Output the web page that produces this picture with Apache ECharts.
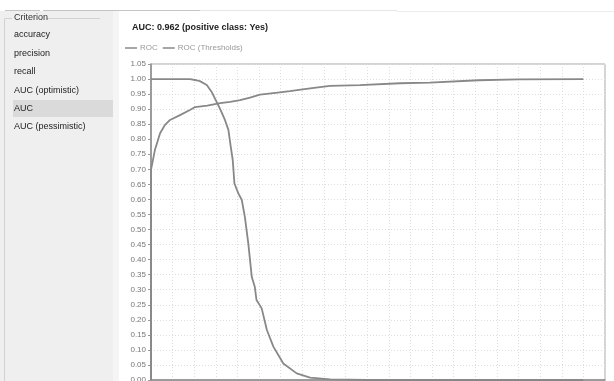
<!DOCTYPE html>
<html>
<head>
<meta charset="utf-8">
<script src="https://cdn.jsdelivr.net/npm/echarts@6/dist/echarts.min.js"></script>
<style>
html,body{margin:0;padding:0;background:#fff;}
#chart{width:614px;height:381px;}
</style>
</head>
<body>
<div id="chart"></div>
<script>
const titleText = 'AUC: 0.962 (positive class: Yes)';
const seriesNames = ['ROC', 'ROC (Thresholds)'];
const criteria = ['accuracy', 'precision', 'recall', 'AUC (optimistic)', 'AUC', 'AUC (pessimistic)'];
const selectedCriterion = 'AUC';

const rocX = [0, 0, 0.009, 0.021, 0.032, 0.044, 0.067, 0.09, 0.102, 0.13, 0.16, 0.183, 0.206, 0.229, 0.252, 0.298, 0.321, 0.368, 0.414, 0.483, 0.576, 0.645, 0.757, 0.85, 1.0];
const rocY = [0, 0.698, 0.764, 0.82, 0.847, 0.864, 0.88, 0.897, 0.907, 0.912, 0.92, 0.924, 0.93, 0.938, 0.948, 0.956, 0.96, 0.969, 0.977, 0.98, 0.986, 0.988, 0.996, 0.999, 1.0];

const thrX = [0, 0.09, 0.105, 0.113, 0.129, 0.14, 0.148, 0.16, 0.171, 0.179, 0.184, 0.189, 0.193, 0.202, 0.21, 0.217, 0.225, 0.229, 0.233, 0.24, 0.244, 0.256, 0.268, 0.283, 0.306, 0.337, 0.368, 0.414, 0.5, 1.0];
const thrY = [1, 1, 0.996, 0.993, 0.98, 0.958, 0.935, 0.9, 0.864, 0.831, 0.78, 0.731, 0.653, 0.62, 0.598, 0.543, 0.454, 0.399, 0.343, 0.31, 0.266, 0.238, 0.166, 0.111, 0.055, 0.022, 0.008, 0.002, 0, 0];

const axisMin = 0, axisMax = 1.05, axisStep = 0.05;

const zip = (xs, ys) => xs.map((x, i) => [x, ys[i]]);
const font = 'Liberation Sans, Arial, sans-serif';

const chart = echarts.init(document.getElementById('chart'), null, {renderer: 'canvas'});

const graphics = [
  {type: 'rect', shape: {x: 0, y: 11, width: 113, height: 370}, style: {fill: '#efefef'}, silent: true},
  {type: 'rect', shape: {x: 113, y: 11, width: 6, height: 370}, style: {fill: '#f5f5f5'}, silent: true},
  {type: 'line', shape: {x1: 5, y1: 10.5, x2: 40, y2: 10.5}, style: {stroke: '#c4c4c4', lineWidth: 1}},
  {type: 'line', shape: {x1: 43, y1: 10.5, x2: 200, y2: 10.5}, style: {stroke: '#c4c4c4', lineWidth: 1}},
  {type: 'line', shape: {x1: 200, y1: 10.5, x2: 397, y2: 10.5}, style: {stroke: '#e6e6e6', lineWidth: 1}},
  {type: 'line', shape: {x1: 397, y1: 11.5, x2: 614, y2: 11.5}, style: {stroke: '#ececec', lineWidth: 1}},
  {type: 'polyline', shape: {points: [[12, 18.5], [4.5, 18.5], [4.5, 381]]}, style: {stroke: '#d2d2d2', fill: null, lineWidth: 1}},
  {type: 'line', shape: {x1: 46, y1: 18.5, x2: 100, y2: 18.5}, style: {stroke: '#d2d2d2', lineWidth: 1}},
  {type: 'text', x: 14, y: 18, style: {text: 'Criterion', font: '9px ' + font, fill: '#333', verticalAlign: 'middle'}}
];
criteria.forEach((c, i) => {
  const cy = 35 + i * 18.4;
  if (c === selectedCriterion) {
    graphics.push({type: 'rect', shape: {x: 13, y: cy - 8.5, width: 100, height: 17}, style: {fill: '#dadada'}, silent: true});
  }
  graphics.push({type: 'text', x: 14, y: cy, style: {text: c, font: '9px ' + font, fill: '#222', verticalAlign: 'middle'}});
});

chart.setOption({
  animation: false,
  backgroundColor: '#fff',
  title: {
    text: titleText, left: 127, top: 18,
    textStyle: {fontSize: 9, fontWeight: 'bold', color: '#222', fontFamily: font}
  },
  legend: {
    left: 120, top: 39, itemWidth: 12, itemHeight: 1.5, itemGap: 5,
    icon: 'rect',
    data: seriesNames,
    textStyle: {fontSize: 8, color: '#999', fontFamily: font, padding: [0, 0, 0, -2]}
  },
  graphic: graphics,
  grid: {left: 151, top: 64, right: 9, bottom: 1, outerBoundsMode: 'none', containLabel: false,
         show: true, borderColor: '#a8a8a8', borderWidth: 1, backgroundColor: 'transparent'},
  xAxis: {
    type: 'value', min: axisMin, max: axisMax, interval: axisStep,
    axisLine: {show: true, lineStyle: {color: '#888', width: 1.5}},
    axisTick: {show: false}, axisLabel: {show: false},
    splitLine: {show: true, lineStyle: {color: '#dedede', type: [1, 2], width: 1}}
  },
  yAxis: {
    type: 'value', min: axisMin, max: axisMax, interval: axisStep,
    axisLine: {show: true, lineStyle: {color: '#888', width: 1.5}},
    axisTick: {show: true, length: 3, lineStyle: {color: '#999'}},
    axisLabel: {fontSize: 8, color: '#777', fontFamily: font, margin: 5, formatter: v => v.toFixed(2)},
    splitLine: {show: true, lineStyle: {color: '#dedede', type: [1, 2], width: 1}}
  },
  series: [
    {name: seriesNames[0], type: 'line', data: zip(rocX, rocY), showSymbol: false, symbol: 'none',
     lineStyle: {color: '#888', width: 1.8}, itemStyle: {color: '#888'}},
    {name: seriesNames[1], type: 'line', data: zip(thrX, thrY), showSymbol: false, symbol: 'none',
     lineStyle: {color: '#888', width: 1.8}, itemStyle: {color: '#888'}}
  ]
});
</script>
</body>
</html>
